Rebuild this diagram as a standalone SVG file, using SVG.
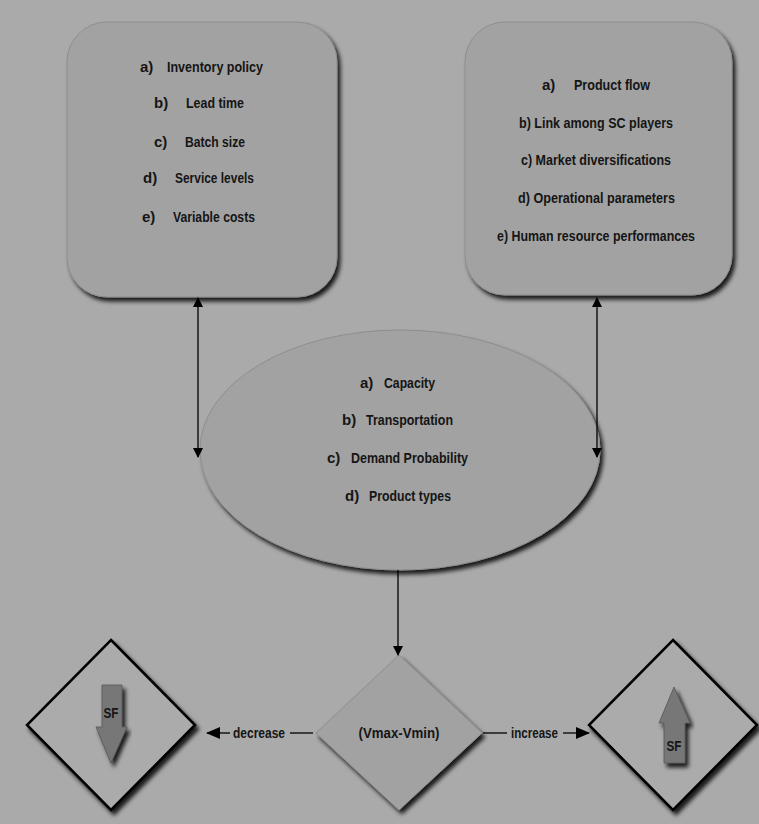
<svg xmlns="http://www.w3.org/2000/svg" width="759" height="824" viewBox="0 0 759 824">
<defs>
<filter id="sh" x="-10%" y="-10%" width="125%" height="125%">
<feDropShadow dx="3" dy="4" stdDeviation="2" flood-color="#000" flood-opacity="0.85"/>
</filter>
<marker id="ah" markerWidth="10" markerHeight="10" refX="9" refY="5" orient="auto-start-reverse" markerUnits="userSpaceOnUse">
<path d="M0,0 L10,5 L0,10 Z" fill="#000"/>
</marker>
<marker id="ah2" markerWidth="14" markerHeight="12" refX="13" refY="6" orient="auto" markerUnits="userSpaceOnUse">
<path d="M0,0 L14,6 L0,12 Z" fill="#000"/>
</marker>
</defs>
<style>
text{font-family:"Liberation Sans",Arial,sans-serif;font-weight:bold;font-size:15px;fill:#151515}
.node{fill:#a2a2a2;stroke:#8e8e8e;stroke-width:1}
.dia{fill:#ababab;stroke:#000;stroke-width:2.5}
.conn{stroke:#000;stroke-width:1.3;fill:none}
.sf{fill:#777;stroke:#555;stroke-width:0.8}
</style>
<rect x="0" y="0" width="759" height="824" fill="#aaaaaa"/>

<g id="box-left">
<rect class="node" x="67" y="22" width="270" height="275" rx="40" ry="40" filter="url(#sh)"/>
<text x="140" y="72">a)</text><text x="167" y="72" textLength="96" lengthAdjust="spacingAndGlyphs">Inventory policy</text>
<text x="154" y="108">b)</text><text x="186" y="108" textLength="58" lengthAdjust="spacingAndGlyphs">Lead time</text>
<text x="154" y="147">c)</text><text x="185" y="147" textLength="60" lengthAdjust="spacingAndGlyphs">Batch size</text>
<text x="143" y="183">d)</text><text x="175" y="183" textLength="79" lengthAdjust="spacingAndGlyphs">Service levels</text>
<text x="142" y="222">e)</text><text x="173" y="222" textLength="82" lengthAdjust="spacingAndGlyphs">Variable costs</text>
</g>

<g id="box-right">
<rect class="node" x="465" y="22" width="267" height="273" rx="40" ry="40" filter="url(#sh)"/>
<text x="542" y="90">a)</text><text x="574" y="90" textLength="76" lengthAdjust="spacingAndGlyphs">Product flow</text>
<text x="519" y="128" textLength="154" lengthAdjust="spacingAndGlyphs">b)  Link among SC players</text>
<text x="521" y="165" textLength="150" lengthAdjust="spacingAndGlyphs">c) Market diversifications</text>
<text x="518" y="203" textLength="157" lengthAdjust="spacingAndGlyphs">d) Operational parameters</text>
<text x="497" y="241" textLength="198" lengthAdjust="spacingAndGlyphs">e) Human resource performances</text>
</g>

<g id="ellipse-center">
<ellipse class="node" cx="400" cy="450" rx="200" ry="120" filter="url(#sh)"/>
<text x="360" y="388">a)</text><text x="384" y="388" textLength="51" lengthAdjust="spacingAndGlyphs">Capacity</text>
<text x="342" y="425">b)</text><text x="366" y="425" textLength="87" lengthAdjust="spacingAndGlyphs">Transportation</text>
<text x="327" y="463">c)</text><text x="351" y="463" textLength="117" lengthAdjust="spacingAndGlyphs">Demand Probability</text>
<text x="345" y="501">d)</text><text x="369" y="501" textLength="82" lengthAdjust="spacingAndGlyphs">Product types</text>
</g>

<g id="diamond-center">
<polygon points="399,655 482,733 399,810 316,733" fill="#a2a2a2" stroke="#8e8e8e" stroke-width="1" filter="url(#sh)"/>
<text x="399" y="738" text-anchor="middle" textLength="81" lengthAdjust="spacingAndGlyphs">(Vmax-Vmin)</text>
</g>

<g id="diamond-left">
<polygon class="dia" points="111,640 195,725 111,810 27,725" filter="url(#sh)"/>
<polygon class="sf" points="102,685 122,685 122,727 127,727 111,763 96,727 102,727" filter="url(#sh)"/>
<text x="111" y="718" text-anchor="middle" font-size="13" textLength="15" lengthAdjust="spacingAndGlyphs">SF</text>
</g>

<g id="diamond-right">
<polygon class="dia" points="673,640 757,725 673,810 589,725" filter="url(#sh)"/>
<polygon class="sf" points="674,687 690,723 685,723 685,763 664,763 664,723 659,723" filter="url(#sh)"/>
<text x="674" y="751" text-anchor="middle" font-size="13" textLength="15" lengthAdjust="spacingAndGlyphs">SF</text>
</g>

<g id="connectors">
<line class="conn" x1="198" y1="298" x2="198" y2="457" marker-start="url(#ah)" marker-end="url(#ah)"/>
<line class="conn" x1="597" y1="298" x2="597" y2="457" marker-start="url(#ah)" marker-end="url(#ah)"/>
<line class="conn" x1="398" y1="570" x2="398" y2="655" marker-end="url(#ah)"/>
<line class="conn" x1="290" y1="733" x2="313" y2="733"/>
<line class="conn" x1="230" y1="733" x2="207" y2="733" marker-end="url(#ah2)"/>
<text x="233" y="738" textLength="52" lengthAdjust="spacingAndGlyphs">decrease</text>
<line class="conn" x1="483" y1="733" x2="507" y2="733"/>
<line class="conn" x1="563" y1="733" x2="589" y2="733" marker-end="url(#ah2)"/>
<text x="511" y="738" textLength="47" lengthAdjust="spacingAndGlyphs">increase</text>
</g>
</svg>
